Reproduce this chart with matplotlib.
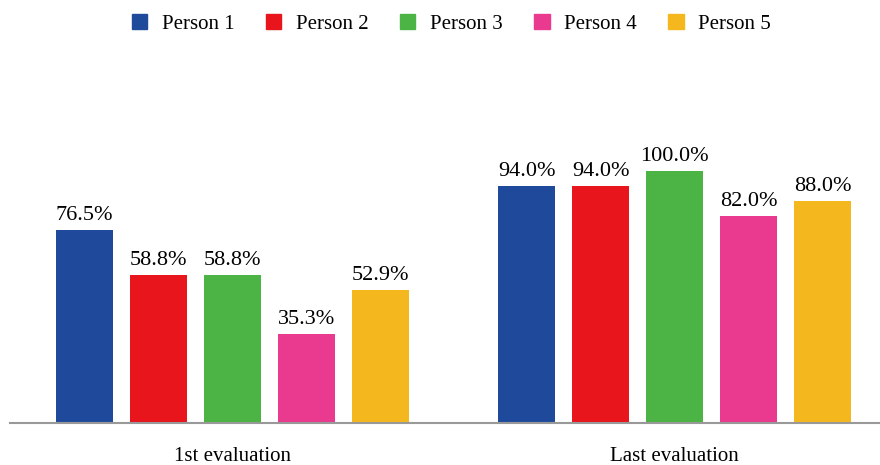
import numpy as np
import matplotlib.pyplot as plt
from matplotlib.patches import Patch

plt.rcParams['font.family'] = ['Liberation Serif', 'DejaVu Serif']

# evaluation scores per person (%)
groups = ['1st evaluation', 'Last evaluation']
people = ['Person 1', 'Person 2', 'Person 3', 'Person 4', 'Person 5']
first_eval = [76.5, 58.8, 58.8, 35.3, 52.9]
last_eval = [94.0, 94.0, 100.0, 82.0, 88.0]
colors = ['#1F4A9C', '#E8151D', '#4CB444', '#E93A8F', '#F4B81E']

fig = plt.figure(figsize=(8.8, 4.65), dpi=100)
ax = fig.add_axes([10/880, 42/465, 870/880, 252/465])

scores = np.array([first_eval, last_eval])
x = np.arange(len(groups))
step = 74/442.5
width = 57/442.5

for j, name in enumerate(people):
    pos = x + (j - 2) * step
    bars = ax.bar(pos, scores[:, j], width, color=colors[j], label=name)
    for b, v in zip(bars, scores[:, j]):
        ax.text(b.get_x() + b.get_width()/2, v + 2.0, f'{v:.1f}%',
                ha='center', va='bottom', fontsize=16, clip_on=False)

ax.set_xlim(-0.502, 1.464)
ax.set_ylim(0, 100)
ax.set_yticks([])
ax.set_xticks(x)
ax.set_xticklabels(groups, fontsize=15)
ax.tick_params(axis='x', length=0, pad=17)
for s in ['top', 'right', 'left']:
    ax.spines[s].set_visible(False)
ax.spines['bottom'].set_color('#999999')
ax.spines['bottom'].set_linewidth(1.5)

handles = [Patch(color=c) for c in colors]
fig.legend(handles, people, loc='upper center', bbox_to_anchor=(0.513, 1.01),
           ncol=5, frameon=False, fontsize=15, handlelength=0.75,
           handleheight=0.75, handletextpad=0.7, columnspacing=1.5)

fig.savefig('out.png', dpi=100)
